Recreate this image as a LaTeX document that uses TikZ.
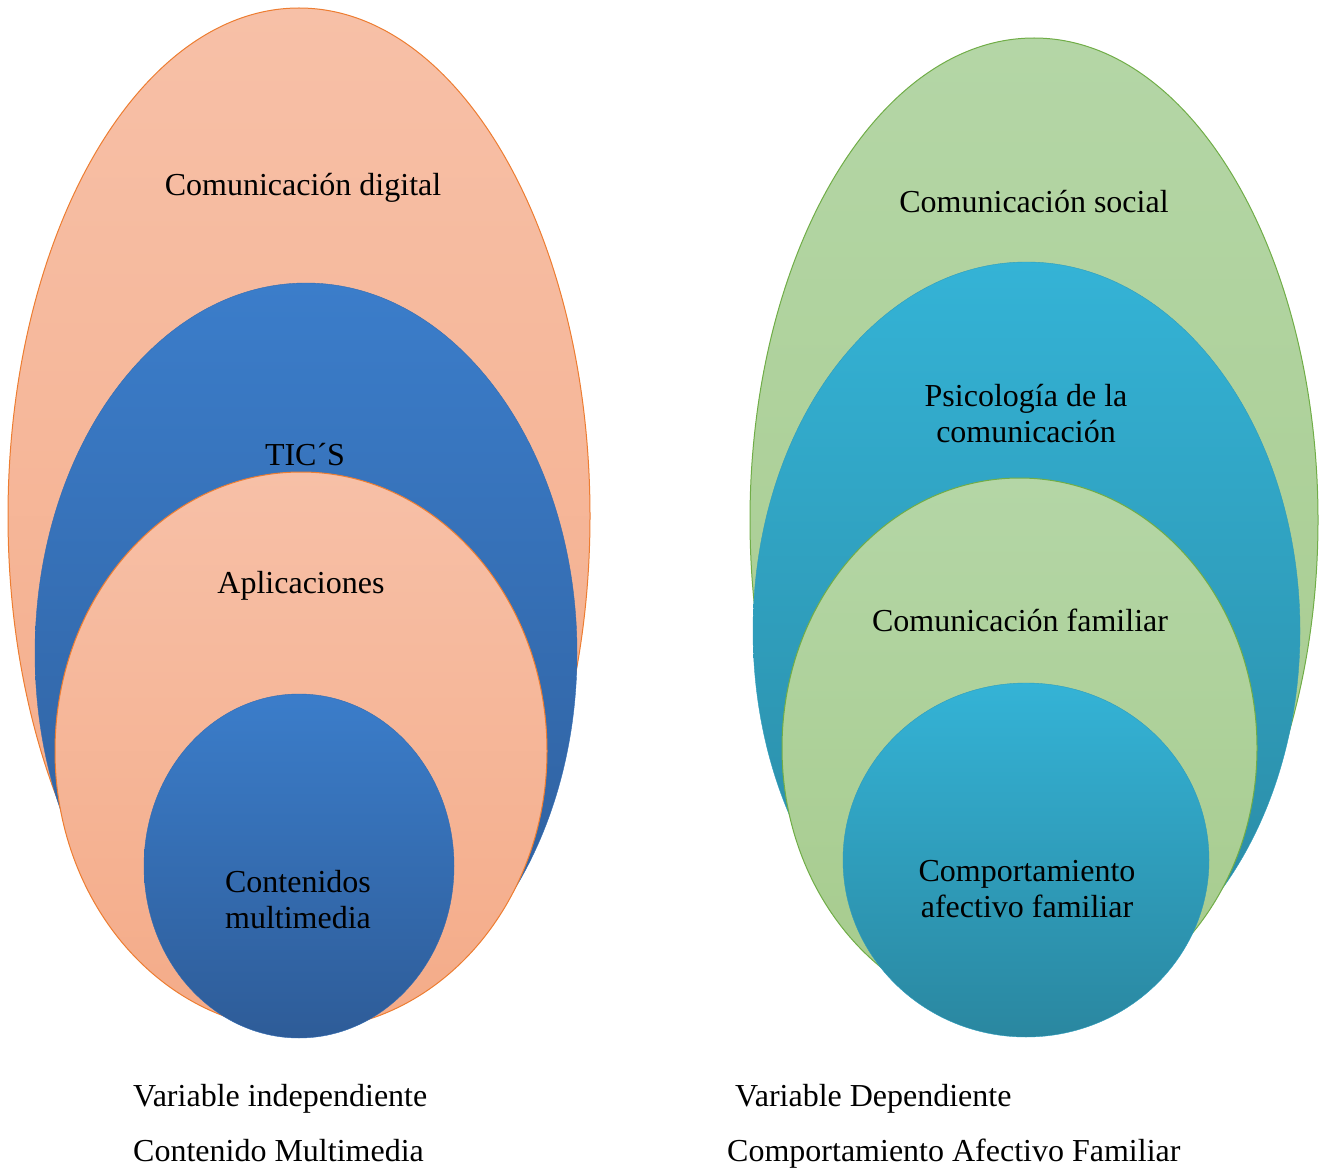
\documentclass[tikz,border=0pt]{standalone}
\usepackage{fontspec}
\setmainfont{Liberation Serif}
\usetikzlibrary{shapes.geometric}
\definecolor{salT}{HTML}{F7C0A7}
\definecolor{salB}{HTML}{F4AB88}
\definecolor{orl}{HTML}{ED7D31}
\definecolor{bluT}{HTML}{3B7DCA}
\definecolor{bluB}{HTML}{2E5C98}
\definecolor{teaT}{HTML}{34B3D6}
\definecolor{teaB}{HTML}{2A87A0}
\definecolor{grnT}{HTML}{B4D6A6}
\definecolor{grnB}{HTML}{A6CB8C}
\definecolor{grl}{HTML}{70AD47}
\begin{document}
\begin{tikzpicture}[x=1pt,y=-1pt,
  ell/.style={ellipse,inner sep=0pt,outer sep=0pt},
  salmon/.style={ell,draw=orl,line width=1pt,top color=salT,bottom color=salB},
  bluell/.style={ell,top color=bluT,bottom color=bluB,draw=bluT!50!bluB,line width=0.4pt},
  tealell/.style={ell,top color=teaT,bottom color=teaB,draw=teaT!50!teaB,line width=0.4pt},
  greenell/.style={ell,draw=grl,line width=1pt,top color=grnT,bottom color=grnB},
  lbl/.style={font=\fontsize{32}{36}\selectfont,text=black,inner sep=0pt,align=center}]
\useasboundingbox (0,0) rectangle (1325,1169);
% left
\node[salmon,minimum width=582pt,minimum height=1016pt] (L1) at (299,516) {};
\node[bluell,minimum width=542pt,minimum height=740pt] (L2) at (306,653) {};
\node[salmon,minimum width=492pt,minimum height=558pt] (L3) at (301,751) {};
\node[bluell,minimum width=310pt,minimum height=344pt] (L4) at (299,866) {};
% right
\node[greenell,minimum width=568pt,minimum height=964pt] (R1) at (1034,520) {};
\node[tealell,minimum width=547pt,minimum height=738pt] (R2) at (1026.5,631) {};
\node[greenell,minimum width=475pt,minimum height=540pt] (R3) at (1019.5,748) {};
\node[tealell,minimum width=366pt,minimum height=354pt] (R4) at (1026,860) {};
% labels
\node[lbl,anchor=base] (t1) at (303,196) {Comunicación digital};
\node[lbl,anchor=base] (t2) at (305,465) {TIC´S};
\node[lbl,anchor=base] (t3) at (301,593) {Aplicaciones};
\node[lbl] (t4) at (298,900) {Contenidos\\multimedia};
\node[lbl,anchor=base] (u1) at (1034,213) {Comunicación social};
\node[lbl] (u2) at (1026,414) {Psicología de la\\comunicación};
\node[lbl,anchor=base] (u3) at (1020,631) {Comunicación familiar};
\node[lbl] (u4) at (1027,889) {Comportamiento\\afectivo familiar};
% bottom
\node[lbl,anchor=base west] (b1) at (133,1106) {Variable independiente};
\node[lbl,anchor=base west] (b2) at (133,1161) {Contenido Multimedia};
\node[lbl,anchor=base west] (b3) at (735,1106) {Variable Dependiente};
\node[lbl,anchor=base west] (b4) at (727,1161) {Comportamiento Afectivo Familiar};
\end{tikzpicture}
\end{document}
